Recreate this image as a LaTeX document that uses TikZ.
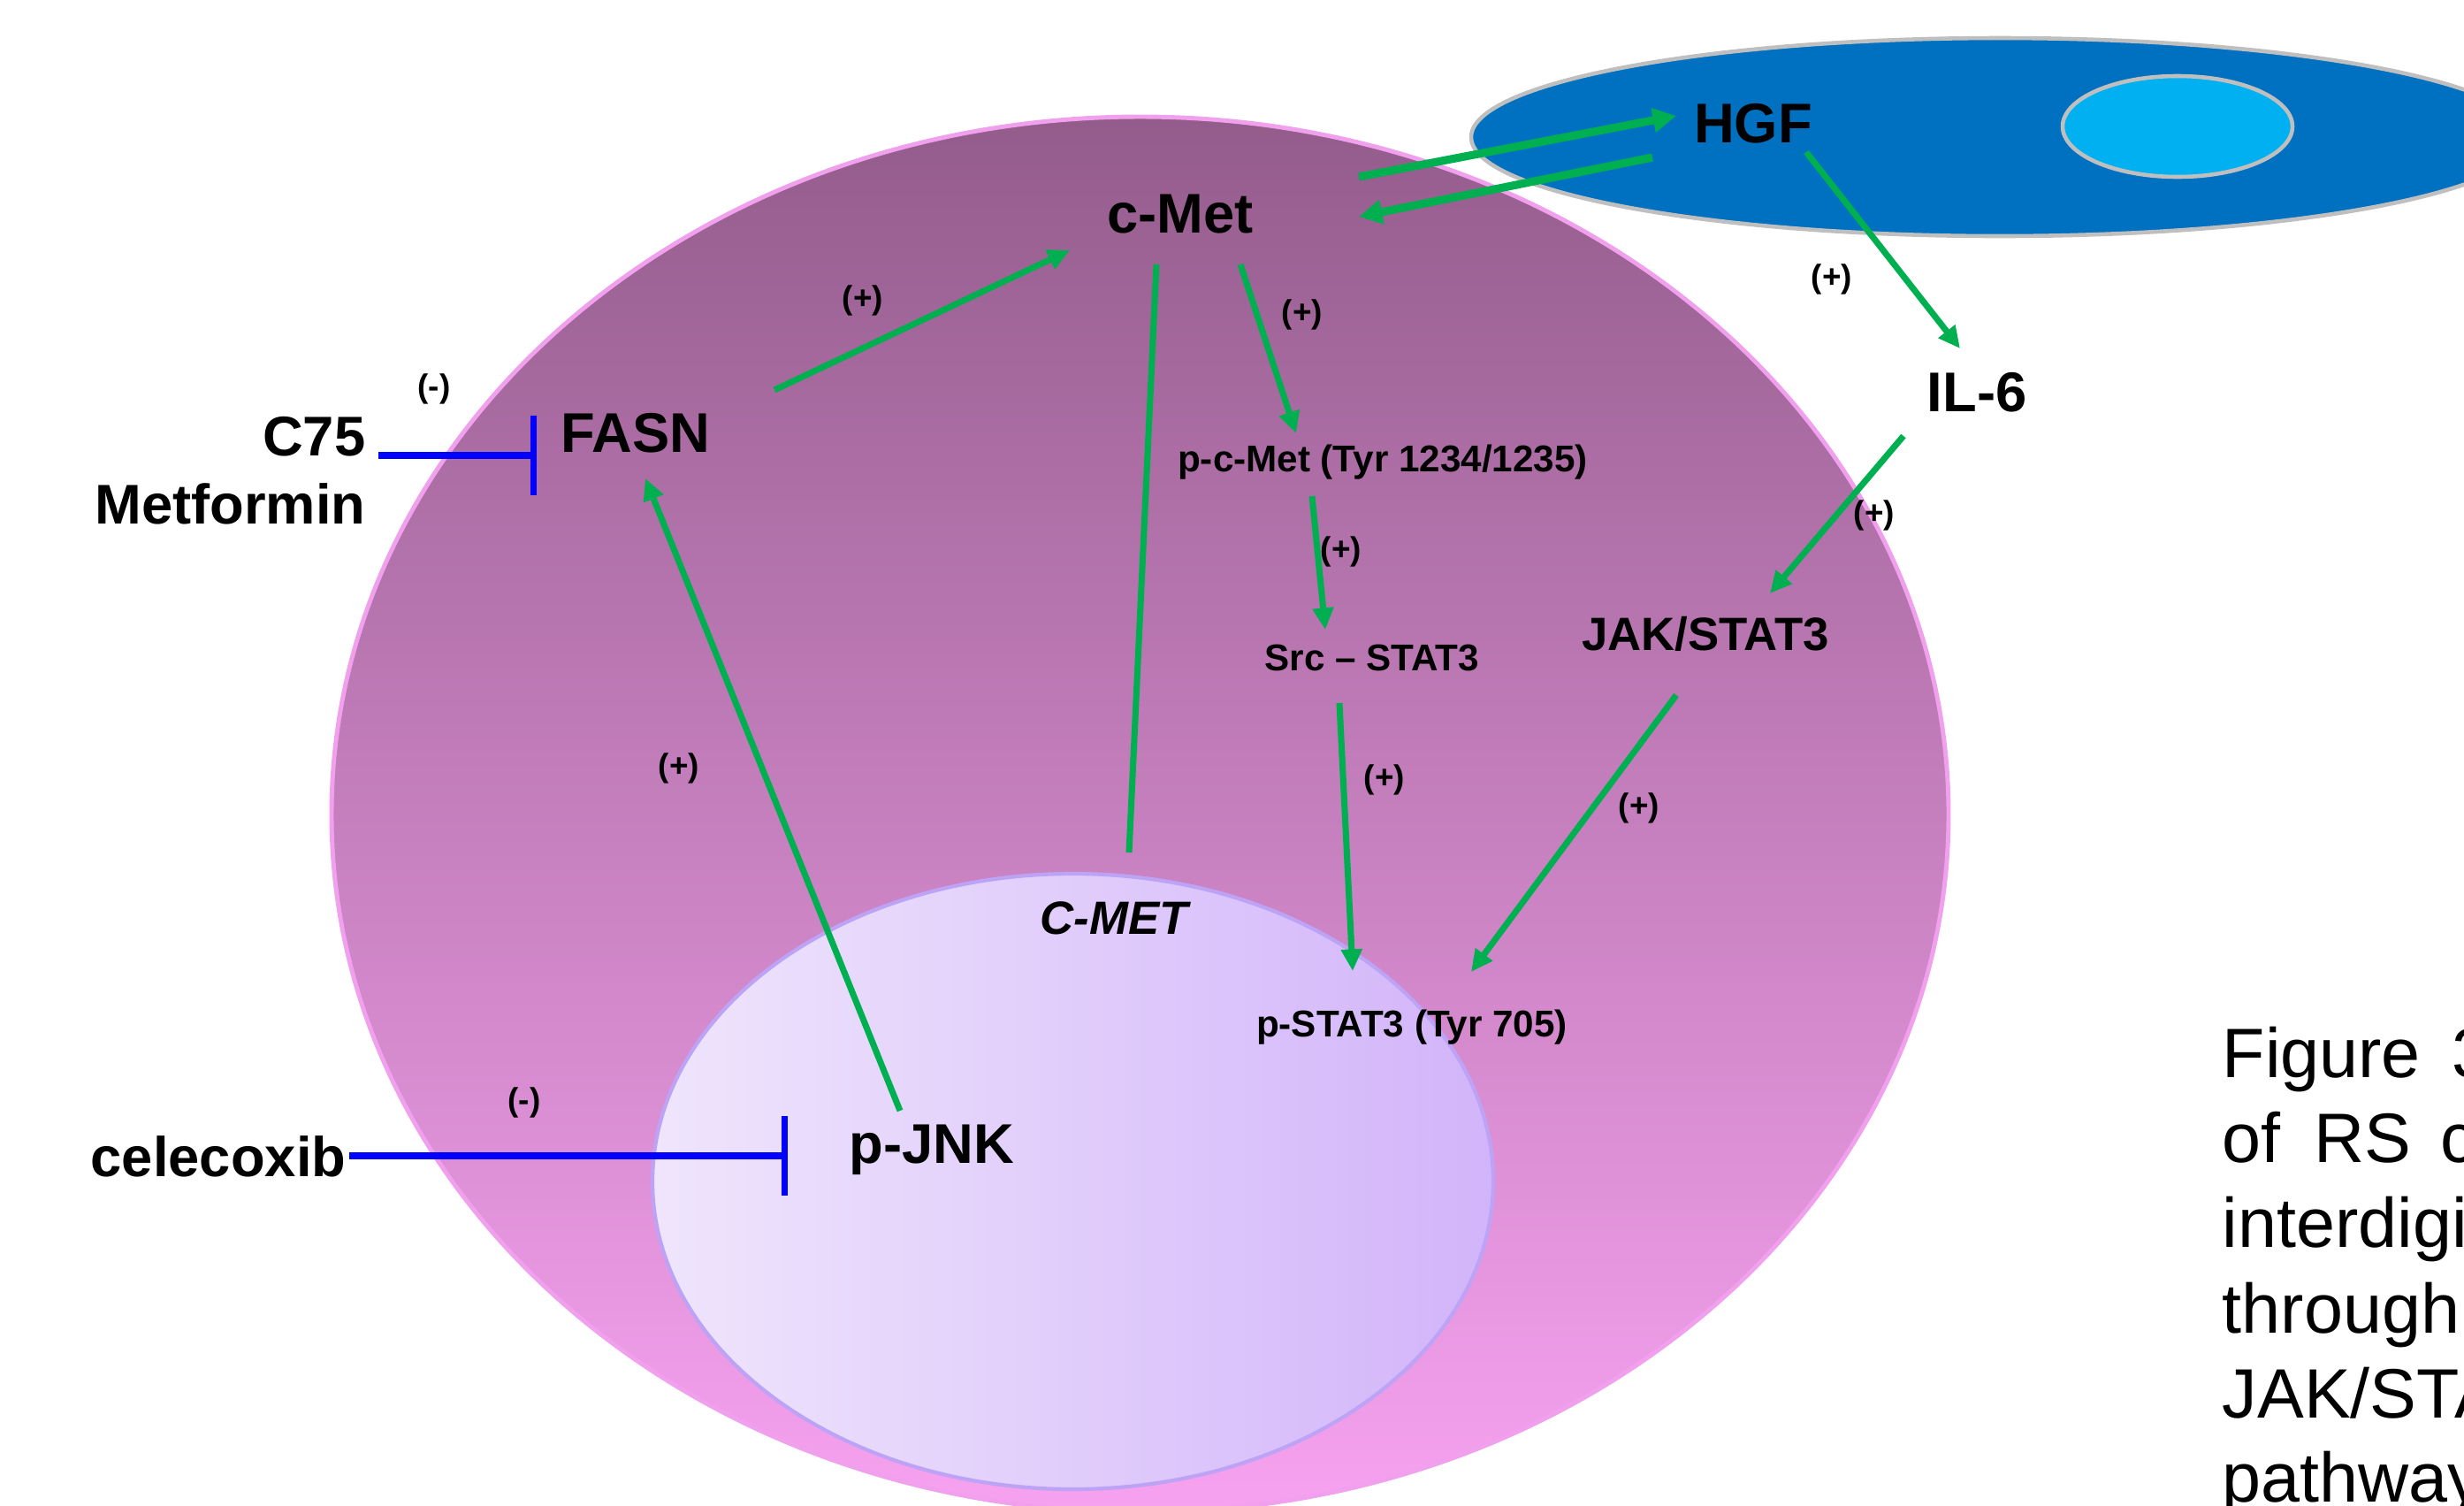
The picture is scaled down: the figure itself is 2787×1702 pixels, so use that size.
\documentclass[tikz,border=0pt]{standalone}
\usepackage{fontspec}
\setmainfont{Liberation Sans}
\usetikzlibrary{arrows.meta,calc}

\definecolor{actgreen}{HTML}{00B050}
\definecolor{inhblue}{HTML}{0000FF}
\definecolor{cellTop}{HTML}{935C8B}
\definecolor{cellBot}{HTML}{F7A2F0}
\definecolor{cellRim}{HTML}{F0A0EC}
\definecolor{nucLeft}{HTML}{EFE5FC}
\definecolor{nucRight}{HTML}{D2B4FA}
\definecolor{nucRim}{HTML}{BDA3F5}
\definecolor{stromaBlue}{HTML}{0070C0}
\definecolor{stromaNuc}{HTML}{00B0F0}
\definecolor{rimGray}{HTML}{BFBFBF}

\begin{document}
\begin{tikzpicture}[x=0.01cm,y=-0.01cm,
  lbl/.style={font=\fontsize{18}{20}\selectfont\bfseries, inner sep=0pt, anchor=base},
  sml/.style={font=\fontsize{12}{14}\selectfont\bfseries, inner sep=0pt, anchor=base},
  sgn/.style={font=\fontsize{10.5}{12}\selectfont\bfseries, inner sep=0pt},
  legendtxt/.style={font=\fontsize{22.5}{27}\selectfont, inner sep=0pt, anchor=base west},
  act/.style={draw=actgreen, line width=2pt, -{Triangle[length=7pt,width=6.5pt]}},
  actthick/.style={act, line width=2.6pt, -{Triangle[length=7.5pt,width=7.5pt]}},
  link/.style={draw=actgreen, line width=2pt},
  inh/.style={draw=inhblue, line width=2.1pt, -{Bar[width=25.5pt]}}
]
\useasboundingbox (0,0) rectangle (2787,1702);
\clip (0,0) rectangle (2787,1702);

% tumour cell with its gradient body
\shade[top color=cellTop, bottom color=cellBot] (1289.5,921) ellipse [x radius=914.5, y radius=789];
\draw[cellRim, line width=1.4pt] (1289.5,921) ellipse [x radius=914.5, y radius=789];

% nucleus
\shade[left color=nucLeft, right color=nucRight] (1213.5,1336) ellipse [x radius=475.5, y radius=348];
\draw[nucRim, line width=1.2pt] (1213.5,1336) ellipse [x radius=475.5, y radius=348];

% stromal cell producing HGF
\draw[rimGray, line width=1.3pt, fill=stromaBlue] (2262,155) ellipse [x radius=598, y radius=112];
\draw[rimGray, line width=1.3pt, fill=stromaNuc] (2463,143) ellipse [x radius=130, y radius=57];

% molecules
\node[lbl] (hgf)   at (1983,161)  {HGF};
\node[lbl] (cmet)  at (1335,263)  {c-Met};
\node[lbl] (fasn)  at (719,511)   {FASN};
\node[lbl, anchor=base east] (c75)  at (414,515) {C75};
\node[lbl, anchor=base east] (metf) at (414,592) {Metformin};
\node[lbl, anchor=base east] (celx) at (392,1330) {celecoxib};
\node[lbl] (pjnk)  at (1054,1315) {p-JNK};
\node[lbl] (il6)   at (2236,465)  {IL-6};
\node[lbl, font=\fontsize{15}{17}\selectfont\bfseries] (jak) at (1929,735) {JAK/STAT3};
\node[sml] (pcmet) at (1564,533)  {p-c-Met (Tyr 1234/1235)};
\node[sml] (src)   at (1552,758)  {Src – STAT3};
\node[sml] (pstat) at (1597,1172) {p-STAT3 (Tyr 705)};
\node[lbl, font=\fontsize{15}{17}\selectfont\bfseries\itshape] (cmetg) at (1260,1056) {C-MET};

% activating links
\draw[act] ($(fasn.base)+(157,-70)$) -- ($(cmet.base)+(-125,20)$);
\draw[act] ($(pjnk.base)+(-36,-59)$) -- ($(fasn.base)+(11,30)$);
\draw[link] ($(cmet.base)+(-27,36)$) -- ($(cmetg.base)+(17,-92)$);
\draw[act] ($(cmet.base)+(68,36)$) -- ($(pcmet.base)+(-98,-43)$);
\draw[act] ($(pcmet.base)+(-80,28)$) -- ($(src.base)+(-53,-46)$);
\draw[act] ($(src.base)+(-37,37)$) -- ($(pstat.base)+(-67,-74)$);
\draw[act] ($(jak.base)+(-33,51)$) -- ($(pstat.base)+(67,-73)$);
\draw[actthick] ($(cmet.base)+(202,-63)$) -- ($(hgf.base)+(-87,-30)$);
\draw[actthick] ($(hgf.base)+(-114,17)$) -- ($(cmet.base)+(202,-18)$);
\draw[act] ($(hgf.base)+(60,11)$) -- ($(il6.base)+(-19,-71)$);
\draw[act] ($(il6.base)+(-83,28)$) -- ($(jak.base)+(73,-64)$);

% inhibitors
\draw[inh] ($(c75.base east)+(14,0)$) -- ($(fasn.base)+(-112,4)$);
\draw[inh] ($(celx.base east)+(3,-23)$) -- ($(pjnk.base)+(-163,-8)$);

% signs of the effects
\node[sgn] (s1)  at (491,440)  {(-)};
\node[sgn] (s2)  at (593,1247) {(-)};
\node[sgn] (s3)  at (976,340)  {(+)};
\node[sgn] (s4)  at (768,869)  {(+)};
\node[sgn] (s5)  at (1473,356) {(+)};
\node[sgn] (s6)  at (1517,624) {(+)};
\node[sgn] (s7)  at (1566,882) {(+)};
\node[sgn] (s8)  at (1854,914) {(+)};
\node[sgn] (s9)  at (2072,316) {(+)};
\node[sgn] (s10) at (2120,583) {(+)};

% legend text, justified lines running off the right edge
\node[legendtxt] (cp1) at (2513,1218) {Figure};
\node[legendtxt] (cp2) at (2773,1218) {3};
\node[legendtxt] (cp3) at (2513,1314) {of};
\node[legendtxt] (cp4) at (2617,1314) {RS};
\node[legendtxt] (cp5) at (2760,1314) {c};
\node[legendtxt] (cp6) at (2513,1410) {interdigi};
\node[legendtxt] (cp7) at (2513,1507) {through};
\node[legendtxt] (cp8) at (2513,1603) {JAK/STA};
\node[legendtxt] (cp9) at (2513,1698) {pathway};
\end{tikzpicture}
\end{document}
